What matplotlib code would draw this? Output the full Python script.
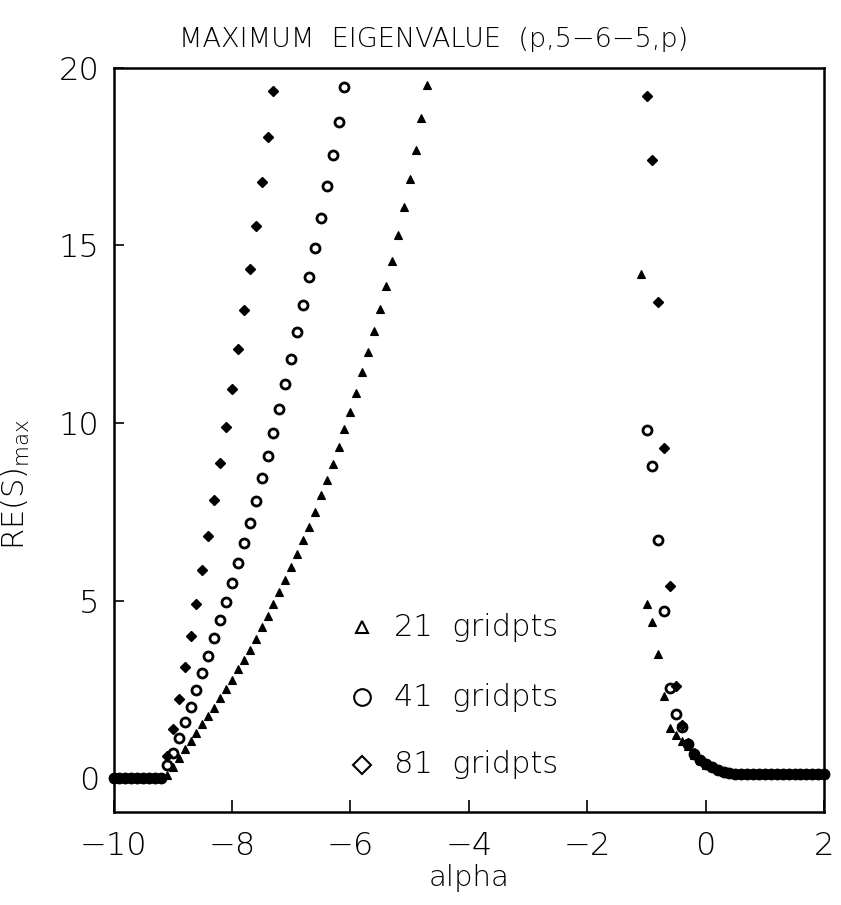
import numpy as np
import matplotlib
matplotlib.use("Agg")
import matplotlib.pyplot as plt

plt.rcParams['font.family'] = ['DejaVu Sans']
plt.rcParams['font.weight'] = 'light'
plt.rcParams['axes.titleweight'] = 'light'
plt.rcParams['axes.labelweight'] = 'light'

# alpha grids (step 0.1)
alpha_zero = np.round(np.arange(-10.0, -9.15, 0.1), 1)   # flat part, RE(S)=0
zero_vals = [0, 0, 0, 0, 0, 0, 0, 0, 0]

# 21 gridpts, left branch from alpha=-9.1
tri_left_alpha = np.round(np.arange(-9.1, -4.65, 0.1), 1)
tri_left = [0.10, 0.30, 0.56,
            0.83, 1.05, 1.27, 1.51, 1.74, 1.98, 2.25, 2.50, 2.77, 3.06,
            3.33, 3.62, 3.93, 4.24, 4.56, 4.90, 5.23, 5.59, 5.95, 6.31,
            6.69, 7.08, 7.49, 7.96, 8.40, 8.85, 9.33, 9.83, 10.31, 10.85,
            11.43, 12.00, 12.59, 13.21, 13.87, 14.56, 15.28, 16.07, 16.86, 17.69,
            18.58, 19.51]

# 41 gridpts, left branch from alpha=-9.1
circ_left_alpha = np.round(np.arange(-9.1, -6.05, 0.1), 1)
circ_left = [0.38, 0.71, 1.13, 1.57, 2.01, 2.47, 2.95, 3.44, 3.94, 4.44,
             4.95, 5.49, 6.05, 6.61, 7.18, 7.80, 8.44, 9.07, 9.73, 10.40,
             11.09, 11.81, 12.56, 13.31, 14.10, 14.92, 15.77, 16.66, 17.56, 18.48,
             19.46]

# 81 gridpts, left branch from alpha=-9.1
dia_left_alpha = np.round(np.arange(-9.1, -7.25, 0.1), 1)
dia_left = [0.62, 1.38, 2.24, 3.14, 4.01, 4.91, 5.86, 6.81, 7.82, 8.86,
            9.89, 10.97, 12.07, 13.18, 14.34, 15.54, 16.80, 18.05, 19.35]

# right branches
tri_right_alpha = np.round(np.arange(-1.1, 2.05, 0.1), 1)
tri_right = [14.2, 4.9, 4.4, 3.5, 2.3, 1.40, 1.20, 1.05, 0.90, 0.66,
             0.50, 0.38, 0.30, 0.23, 0.17, 0.13, 0.12, 0.12, 0.12, 0.12,
             0.12, 0.12, 0.12, 0.12, 0.12, 0.12, 0.12, 0.12, 0.12, 0.12,
             0.12, 0.12]

circ_right_alpha = np.round(np.arange(-1.0, 2.05, 0.1), 1)
circ_right = [9.8, 8.8, 6.7, 4.7, 2.55, 1.80, 1.45, 0.95, 0.68,
              0.51, 0.39, 0.30, 0.23, 0.17, 0.13, 0.12, 0.12, 0.12, 0.12,
              0.12, 0.12, 0.12, 0.12, 0.12, 0.12, 0.12, 0.12, 0.12, 0.12,
              0.12, 0.12]

dia_right_alpha = np.round(np.arange(-1.0, 2.05, 0.1), 1)
dia_right = [19.2, 17.4, 13.4, 9.3, 5.4, 2.6, 1.50, 0.98, 0.70,
             0.52, 0.40, 0.31, 0.24, 0.18, 0.14, 0.12, 0.12, 0.12, 0.12,
             0.12, 0.12, 0.12, 0.12, 0.12, 0.12, 0.12, 0.12, 0.12, 0.12,
             0.12, 0.12]

legend_labels = ['21  gridpts', '41  gridpts', '81  gridpts']

fig = plt.figure(figsize=(8.41, 9.05), dpi=100)
ax = fig.add_axes([0.135, 0.103, 0.845, 0.822])

tri_style = dict(ls='none', marker='^', ms=6, mfc='black', mec='black', mew=0.8)
circ_style = dict(ls='none', marker='o', ms=6.5, mfc='white', mec='black', mew=2.0)
dia_style = dict(ls='none', marker='D', ms=4.6, mfc='black', mec='black', mew=1.0)

for a, v, st in [(alpha_zero, zero_vals, tri_style),
                 (alpha_zero, zero_vals, circ_style),
                 (alpha_zero, zero_vals, dia_style),
                 (tri_left_alpha, tri_left, tri_style),
                 (circ_left_alpha, circ_left, circ_style),
                 (dia_left_alpha, dia_left, dia_style),
                 (tri_right_alpha, tri_right, tri_style),
                 (circ_right_alpha, circ_right, circ_style),
                 (dia_right_alpha, dia_right, dia_style)]:
    ax.plot(a, v, clip_on=False, **st)

ax.set_xlim(-10, 2)
ax.set_ylim(-0.95, 20)
ax.set_xticks([-10, -8, -6, -4, -2, 0, 2])
ax.set_yticks([0, 5, 10, 15, 20])
ax.tick_params(direction='in', length=9, width=1.2, labelsize=23, pad=14)
ax.tick_params(axis='y', length=7, pad=10)
for s in ax.spines.values():
    s.set_linewidth(1.8)

ax.set_title('MAXIMUM  EIGENVALUE  (p,5\u22126\u22125,p)', fontsize=19.5,
             x=0.45, pad=15)
ax.set_xlabel('alpha', fontsize=21, labelpad=2)
ax.set_ylabel(r'RE(S)$_{\mathrm{max}}$', fontsize=22)
ax.yaxis.set_label_coords(-0.115, 0.44)

# key
key_markers = [('^', 9), ('o', 12), ('D', 9)]
key_y = [0.248, 0.154, 0.063]
for (m, ms), y, lab in zip(key_markers, key_y, legend_labels):
    ax.plot([0.35], [y], transform=ax.transAxes, ls='none', marker=m, ms=ms,
            mfc='white', mec='black', mew=1.5)
    ax.text(0.395, y, lab, transform=ax.transAxes, fontsize=22, va='center',
            ha='left')

fig.savefig('out.png', dpi=100)
